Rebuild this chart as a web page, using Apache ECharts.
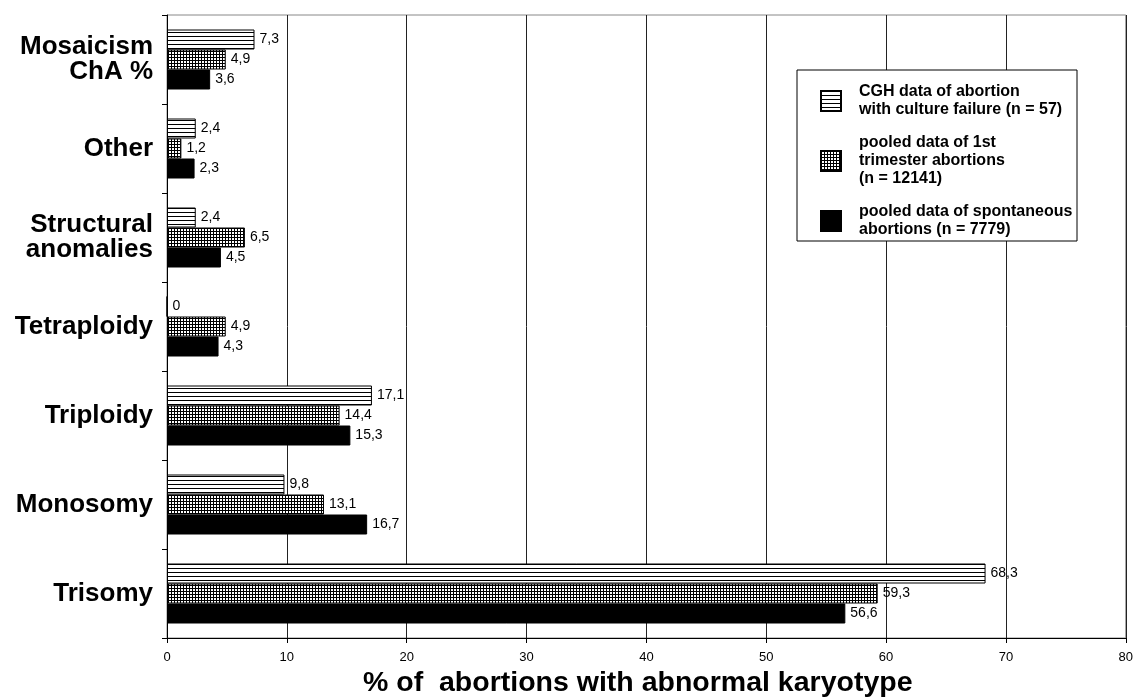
<!DOCTYPE html>
<html>
<head>
<meta charset="utf-8">
<script src="https://cdn.jsdelivr.net/npm/echarts@6/dist/echarts.min.js"></script>
<style>
html, body { margin: 0; padding: 0; background: #fff; overflow: hidden; }
#chart { width: 1136px; height: 698px; }
</style>
</head>
<body>
<div id="chart"></div>
<script>
// categories bottom -> top
var categories = ["Trisomy", "Monosomy", "Triploidy", "Tetraploidy", "Structural\nanomalies", "Other", "Mosaicism\nChA %"];
var seriesNames = [
  "CGH data of abortion\nwith culture failure (n = 57)",
  "pooled data of 1st\ntrimester abortions\n(n = 12141)",
  "pooled data of spontaneous\nabortions (n = 7779)"
];
var cghData = [68.3, 9.8, 17.1, 0, 2.4, 2.4, 7.3];
var firstTrimesterData = [59.3, 13.1, 14.4, 4.9, 6.5, 1.2, 4.9];
var spontaneousData = [56.6, 16.7, 15.3, 4.3, 4.5, 2.3, 3.6];
var xTicks = [0, 10, 20, 30, 40, 50, 60, 70, 80];

var font = "'Liberation Sans', Arial, sans-serif";

// fill patterns
function makePattern(kind) {
  var c = document.createElement("canvas");
  var s = kind === "stripes" ? 4 : 3;
  c.width = s; c.height = s;
  var ctx = c.getContext("2d");
  ctx.fillStyle = "#fff";
  ctx.fillRect(0, 0, s, s);
  ctx.fillStyle = "#000";
  ctx.fillRect(0, 0, s, 1);
  if (kind === "grid") ctx.fillRect(0, 0, 1, s);
  return { image: c, repeat: "repeat" };
}
var stripes = makePattern("stripes");
var grid = makePattern("grid");

function label() {
  return {
    show: true,
    position: "right",
    distance: 5,
    color: "#000",
    fontFamily: font,
    fontSize: 14,
    formatter: function (p) { return String(p.value).replace(".", ","); }
  };
}

var chart = echarts.init(document.getElementById("chart"));
chart.setOption({
  animation: false,
  backgroundColor: "#fff",
  grid: { left: 167, right: 5, top: 15, bottom: 60, show: true, borderColor: "#888", borderWidth: 1 },
  title: {
    text: "% of  abortions with abnormal karyotype",
    left: 363, top: 669, padding: 0,
    textStyle: { fontFamily: font, fontSize: 28.5, fontWeight: "bold", color: "#000" }
  },
  graphic: [{
    type: "rect", z: 5,
    shape: { x: 797, y: 70, width: 280, height: 171 },
    style: { fill: "#fff", stroke: "#000", lineWidth: 1 }
  }],
  legend: {
    orient: "vertical",
    left: 820, top: 83, padding: 0, z: 10,
    icon: "rect",
    itemWidth: 20, itemHeight: 20, itemGap: 15,
    selectedMode: false,
    textStyle: { fontFamily: font, fontSize: 16, fontWeight: "bold", color: "#000", lineHeight: 18, padding: [0, 0, 0, 13] },
    data: seriesNames
  },
  xAxis: {
    type: "value", min: 0, max: 80, interval: 10,
    axisLine: { show: true, lineStyle: { color: "#000" } },
    axisTick: { show: true, length: 5, lineStyle: { color: "#000" } },
    axisLabel: { fontFamily: font, fontSize: 13, color: "#000", margin: 13,
      formatter: function (v) { return xTicks.indexOf(v) >= 0 ? String(v) : ""; } },
    splitLine: { show: true, lineStyle: { color: "#222", width: 1 } }
  },
  yAxis: {
    type: "category", data: categories,
    axisLine: { show: true, lineStyle: { color: "#000" } },
    axisTick: { show: true, length: 5, lineStyle: { color: "#000" } },
    axisLabel: { fontFamily: font, fontSize: 26, fontWeight: "bold", color: "#000", margin: 14, lineHeight: 25,
      align: "right", padding: [0, 0, 5, 0] }
  },
  series: [
    { name: seriesNames[0], type: "bar", data: cghData, barWidth: 20, barGap: "0%",
      itemStyle: { color: stripes, borderColor: "#000", borderWidth: 1 }, label: label() },
    { name: seriesNames[1], type: "bar", data: firstTrimesterData, barWidth: 20, barGap: "0%",
      itemStyle: { color: grid, borderColor: "#000", borderWidth: 1 }, label: label() },
    { name: seriesNames[2], type: "bar", data: spontaneousData, barWidth: 20, barGap: "0%",
      itemStyle: { color: "#000", borderColor: "#000", borderWidth: 1 }, label: label() }
  ]
});
</script>
</body>
</html>
